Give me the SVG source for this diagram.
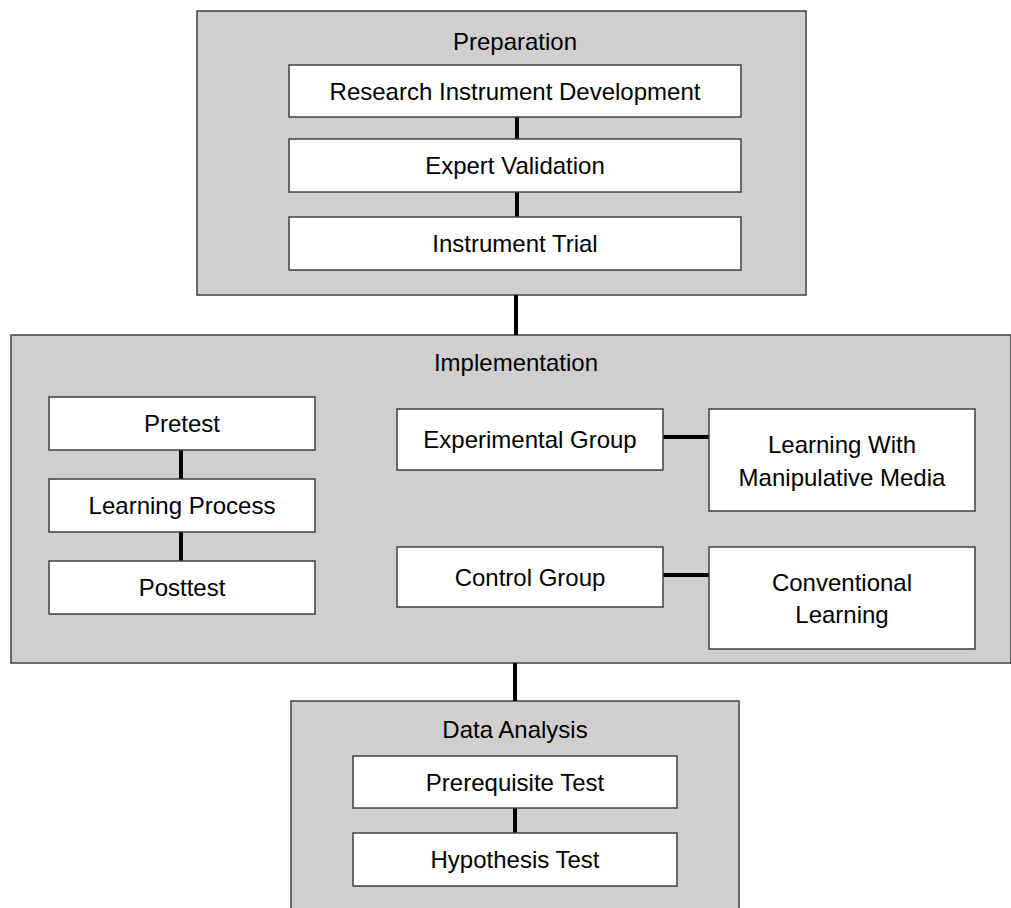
<svg xmlns="http://www.w3.org/2000/svg" width="1011" height="908" viewBox="0 0 1011 908">
<style>
.group{fill:#d0cece;stroke:#404040;stroke-width:1.5}
.box{fill:#ffffff;stroke:#404040;stroke-width:1.5}
.t{font-family:"Liberation Sans",Arial,sans-serif;font-size:24px;fill:#000;text-anchor:middle}
.c{stroke:#000;stroke-width:4;fill:none}
</style>
<rect width="1011" height="908" fill="#ffffff"/>
<g id="preparation">
<rect class="group" x="197" y="11" width="609" height="284"/>
<text class="t" x="515" y="50">Preparation</text>
</g>
<g id="implementation">
<rect class="group" x="11" y="335" width="1000" height="328"/>
<text class="t" x="516" y="371">Implementation</text>
</g>
<g id="data-analysis">
<rect class="group" x="291" y="701" width="448" height="230"/>
<text class="t" x="515" y="738">Data Analysis</text>
</g>
<g id="connectors">
<line class="c" x1="516" y1="295" x2="516" y2="335"/>
<line class="c" x1="515" y1="663" x2="515" y2="701"/>
<line class="c" x1="517" y1="117" x2="517" y2="139"/>
<line class="c" x1="517" y1="192" x2="517" y2="217"/>
<line class="c" x1="181" y1="450" x2="181" y2="479"/>
<line class="c" x1="181" y1="532" x2="181" y2="561"/>
<line class="c" x1="663" y1="437" x2="709" y2="437"/>
<line class="c" x1="663" y1="575" x2="709" y2="575"/>
<line class="c" x1="515" y1="808" x2="515" y2="833"/>
</g>
<g id="research-instrument-development">
<rect class="box" x="289" y="65" width="452" height="52"/>
<text class="t" x="515" y="100">Research Instrument Development</text>
</g>
<g id="expert-validation">
<rect class="box" x="289" y="139" width="452" height="53"/>
<text class="t" x="515" y="174">Expert Validation</text>
</g>
<g id="instrument-trial">
<rect class="box" x="289" y="217" width="452" height="53"/>
<text class="t" x="515" y="252">Instrument Trial</text>
</g>
<g id="pretest">
<rect class="box" x="49" y="397" width="266" height="53"/>
<text class="t" x="182" y="432">Pretest</text>
</g>
<g id="learning-process">
<rect class="box" x="49" y="479" width="266" height="53"/>
<text class="t" x="182" y="514">Learning Process</text>
</g>
<g id="posttest">
<rect class="box" x="49" y="561" width="266" height="53"/>
<text class="t" x="182" y="596">Posttest</text>
</g>
<g id="experimental-group">
<rect class="box" x="397" y="409" width="266" height="61"/>
<text class="t" x="530" y="448">Experimental Group</text>
</g>
<g id="learning-with-manipulative-media">
<rect class="box" x="709" y="409" width="266" height="102"/>
<text class="t" x="842" y="453">Learning With</text>
<text class="t" x="842" y="486">Manipulative Media</text>
</g>
<g id="control-group">
<rect class="box" x="397" y="547" width="266" height="60"/>
<text class="t" x="530" y="586">Control Group</text>
</g>
<g id="conventional-learning">
<rect class="box" x="709" y="547" width="266" height="102"/>
<text class="t" x="842" y="591">Conventional</text>
<text class="t" x="842" y="623">Learning</text>
</g>
<g id="prerequisite-test">
<rect class="box" x="353" y="756" width="324" height="52"/>
<text class="t" x="515" y="791">Prerequisite Test</text>
</g>
<g id="hypothesis-test">
<rect class="box" x="353" y="833" width="324" height="53"/>
<text class="t" x="515" y="868">Hypothesis Test</text>
</g>
</svg>
